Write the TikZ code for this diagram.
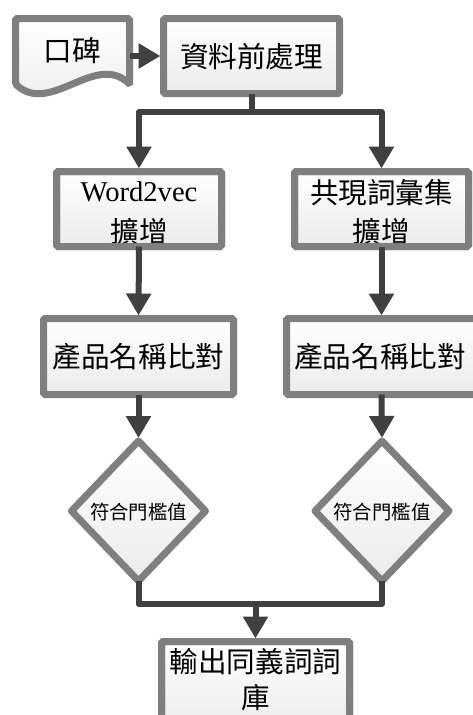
\documentclass[tikz,border=0pt]{standalone}
\usepackage{fontspec}
\setmainfont{Liberation Serif}
\newfontfamily\cjk{Noto Sans CJK TC}
\usetikzlibrary{arrows.meta,shapes.geometric}
\definecolor{bordergray}{HTML}{7F7F7F}
\definecolor{linegray}{HTML}{404040}
\tikzset{
  box/.style={draw=bordergray, line width=7pt, rounded corners=1.5pt,
    top color=white, bottom color=gray!16, inner sep=0pt, outer sep=0pt},
  rim/.style={draw=bordergray, line width=7pt, rounded corners=1.5pt},
  dia/.style={diamond, draw=bordergray, line width=7pt, line join=round,
    top color=white, bottom color=gray!16, inner sep=0pt, outer sep=0pt,
    minimum width=134pt, minimum height=140pt},
  txt/.style={font=\cjk\fontsize{28.6}{34}\selectfont, inner sep=0pt, text=black},
  wtxt/.style={font=\fontsize{28.6}{34}\selectfont, inner sep=0pt, text=black},
  stxt/.style={font=\cjk\fontsize{19.4}{24}\selectfont, inner sep=0pt, text=black},
  line/.style={draw=linegray, line width=6pt, line join=round},
  conn/.style={line, -{Triangle[length=22pt,width=24pt]}, shorten >=3pt},
}
\begin{document}
\begin{tikzpicture}[x=1pt,y=-1pt]
\useasboundingbox (0,0) rectangle (472,715);
% document shape
\draw[box] (15.5,18.5) -- (129.5,18.5) -- (129.5,84)
  .. controls (95,52) and (50,116) .. (15.5,84) -- cycle;
\node[txt] (doc) at (72,51) {口碑};
% boxes
\node[box, minimum width=176pt, minimum height=75pt] (pre) at (251.5,56) {};
\node[txt] (pret) at (251.5,57) {資料前處理};
\node[box, minimum width=165pt, minimum height=75pt] (w2v) at (139,209) {};
\node[wtxt] (w2vt1) at (139,192) {Word2vec};
\node[txt] (w2vt2) at (139,232) {擴增};
\node[box, minimum width=174pt, minimum height=75pt] (co) at (381.5,209) {};
\node[txt] (cot1) at (381.5,193) {共現詞彙集};
\node[txt] (cot2) at (381.5,232) {擴增};
\node[box, minimum width=190pt, minimum height=76pt] (pl) at (138.5,356.5) {};
\node[txt] (plt) at (138.5,357) {產品名稱比對};
\node[box, minimum width=190pt, minimum height=76pt] (pr) at (381.5,356.5) {};
\node[txt] (prt) at (380,357) {產品名稱比對};
\node[dia] (dl) at (138.5,511) {};
\node[stxt] (dlt) at (138.5,512) {符合門檻值};
\node[dia] (dr) at (382,511) {};
\node[stxt] (drt) at (382,512) {符合門檻值};
\node[box, minimum width=188pt, minimum height=90pt] (out) at (255.5,686.5) {};
\node[txt] (outt1) at (255.5,662) {輸出同義詞詞};
\node[txt] (outt2) at (255.5,698) {庫};
% borders over clipped text
\draw[rim] (w2v.south west) rectangle (w2v.north east);
\draw[rim] (co.south west) rectangle (co.north east);
\draw[rim] (out.south west) rectangle (out.north east);
% connectors
\coordinate (docR) at (129.5,56);
\draw[conn] (docR) -- (pre.west |- docR);
\coordinate (j1) at (251.5,112);
\draw[line] (pre.south) -- (j1);
\draw[conn] (j1) -| (w2v.north);
\draw[conn] (j1) -| (co.north);
\draw[conn] (w2v.south) -- (pl.north);
\draw[conn] (co.south) -- (pr.north -| co.south);
\draw[conn] (pl.south) -- (dl.north);
\draw[conn] (pr.south) -- (dr.north);
\coordinate (j2) at (255.5,604);
\draw[line] (dl.south) |- (j2);
\draw[line] (dr.south) |- (j2);
\draw[conn] (j2) -- (out.north);
\end{tikzpicture}
\end{document}
